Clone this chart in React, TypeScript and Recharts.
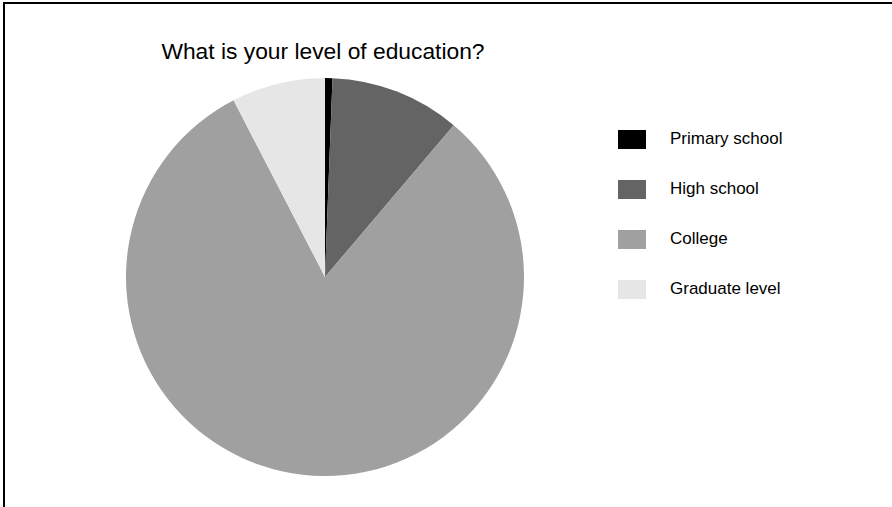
import React from "react"
import { PieChart, Pie, Cell } from "recharts"

const categories = ["Primary school", "High school", "College", "Graduate level"]
const shares = [0.6, 10.6, 81.2, 7.6]
const colors = ["#000000", "#646464", "#a0a0a0", "#e6e6e6"]

const data = categories.map((name, i) => ({ name, value: shares[i] }))

const font = '"Liberation Sans", Arial, sans-serif'

function LegendBox() {
    return (
        <div style={{ position: "absolute", left: 618, top: 114, fontFamily: font }}>
            {categories.map((name, i) => (
                <div key={name} style={{ display: "flex", alignItems: "center", height: 50 }}>
                    <div style={{ width: 28, height: 19, background: colors[i] }} />
                    <span style={{ marginLeft: 24, fontSize: 17, color: "#000" }}>{name}</span>
                </div>
            ))}
        </div>
    )
}

export default function App() {
    return (
        <div style={{ position: "absolute", left: 0, top: 0, width: 892, height: 507, overflow: "hidden", background: "#fff" }}>
            <div style={{ position: "absolute", left: 3, top: 2, width: 900, height: 520, borderTop: "2px solid #000", borderLeft: "2px solid #000" }} />
            <div style={{ position: "absolute", left: 0, top: 38, width: 646, textAlign: "center", fontFamily: font, fontSize: 22.8, color: "#000" }}>
                What is your level of education?
            </div>
            <div style={{ position: "absolute", left: 0, top: 0 }}>
                <PieChart width={892} height={507} margin={{ top: 0, right: 0, bottom: 0, left: 0 }}>
                    <Pie
                        data={data}
                        dataKey="value"
                        nameKey="name"
                        cx={325}
                        cy={277}
                        outerRadius={199}
                        startAngle={90}
                        endAngle={-270}
                        stroke="none"
                        isAnimationActive={false}
                    >
                        {data.map((d, i) => (
                            <Cell key={d.name} fill={colors[i]} />
                        ))}
                    </Pie>
                </PieChart>
            </div>
            <LegendBox />
        </div>
    )
}
